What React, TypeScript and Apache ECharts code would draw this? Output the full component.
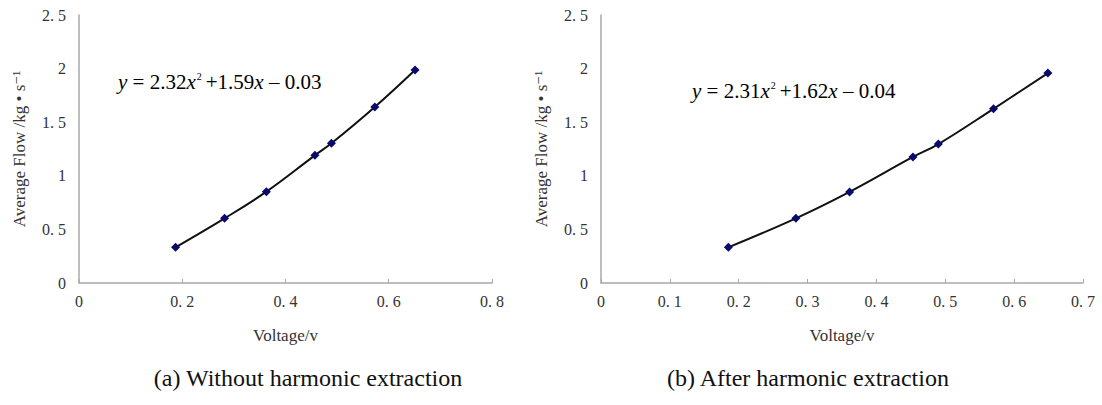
import React, { useEffect, useRef } from "react";
import * as echarts from "echarts";

const voltageA = [0.187, 0.282, 0.363, 0.457, 0.489, 0.573, 0.651];
const flowA = [0.333, 0.603, 0.852, 1.191, 1.303, 1.642, 1.987];
const voltageB = [0.185, 0.283, 0.361, 0.453, 0.49, 0.57, 0.649];
const flowB = [0.333, 0.603, 0.85, 1.176, 1.296, 1.625, 1.958];

const yAxisName = "Average Flow /kg • s⁻¹";
const xAxisName = "Voltage/v";
const captionA = "(a) Without harmonic extraction";
const captionB = "(b) After harmonic extraction";

const SERIF = "'Liberation Serif', 'DejaVu Serif', serif";

const fmt = (v: number) => {
  if (v === 0) return "0";
  const s = String(Math.round(v * 10) / 10);
  return s.replace(".", ". ");
};

function App() {
  const ref = useRef<HTMLDivElement>(null);
  useEffect(() => {
    if (!ref.current) return;
    const chart = echarts.init(ref.current, null, { renderer: "svg" });
    const axisLine = { lineStyle: { color: "#a8a8a8", width: 1.5 } };
    const labelStyle = { color: "#333", fontFamily: SERIF, fontSize: 16 };
    const nameStyle = { color: "#333", fontFamily: SERIF, fontSize: 17 };
    const xAxisCommon = (max: number, interval: number, gridIndex: number) => ({
      type: "value",
      gridIndex,
      min: 0,
      max,
      interval,
      name: xAxisName,
      nameLocation: "middle",
      nameGap: 44,
      nameTextStyle: nameStyle,
      axisLine,
      axisTick: { show: true, inside: true, length: 4, lineStyle: { color: "#a8a8a8" } },
      axisLabel: { ...labelStyle, margin: 10, formatter: fmt },
      splitLine: { show: false },
    });
    const yAxisCommon = (gridIndex: number) => ({
      type: "value",
      gridIndex,
      min: 0,
      max: 2.5,
      interval: 0.5,
      name: yAxisName,
      nameLocation: "middle",
      nameGap: 51,
      nameTextStyle: nameStyle,
      axisLine: { show: true, ...axisLine },
      axisTick: { show: false },
      axisLabel: { ...labelStyle, margin: 13, formatter: fmt },
      splitLine: { show: false },
    });
    const seriesCommon = {
      type: "line",
      smooth: 0.4,
      symbol: "diamond",
      symbolSize: 9,
      itemStyle: { color: "#0a0a6e" },
      lineStyle: { color: "#111", width: 2 },
    };
    const eqRich = {
      n: { fontFamily: SERIF, fontSize: 21, color: "#222" },
      i: { fontFamily: SERIF, fontSize: 21, fontStyle: "italic", color: "#222" },
      s: { fontFamily: SERIF, fontSize: 10, color: "#222", verticalAlign: "top", padding: [0, 4, 10, 1] },
    };
    chart.setOption({
      animation: false,
      grid: [
        { left: 79, top: 15, width: 413, height: 268 },
        { left: 601, top: 15, width: 482, height: 268 },
      ],
      xAxis: [xAxisCommon(0.8, 0.2, 0), xAxisCommon(0.7, 0.1, 1)],
      yAxis: [yAxisCommon(0), yAxisCommon(1)],
      series: [
        { ...seriesCommon, xAxisIndex: 0, yAxisIndex: 0, data: voltageA.map((v, i) => [v, flowA[i]]) },
        { ...seriesCommon, xAxisIndex: 1, yAxisIndex: 1, data: voltageB.map((v, i) => [v, flowB[i]]) },
      ],
      graphic: [
        {
          type: "text",
          x: 118,
          y: 71,
          style: {
            text: "{i|y}{n| = 2.32}{i|x}{s|2}{n|+1.59}{i|x}{n| – 0.03}",
            rich: eqRich,
          },
        },
        {
          type: "text",
          x: 692,
          y: 80,
          style: {
            text: "{i|y}{n| = 2.31}{i|x}{s|2}{n|+1.62}{i|x}{n| – 0.04}",
            rich: eqRich,
          },
        },
        {
          type: "text",
          x: 308,
          y: 378,
          style: {
            text: captionA,
            fontFamily: SERIF,
            fontSize: 24,
            fill: "#111",
            align: "center",
            verticalAlign: "middle",
          },
        },
        {
          type: "text",
          x: 808,
          y: 378,
          style: {
            text: captionB,
            fontFamily: SERIF,
            fontSize: 24,
            fill: "#111",
            align: "center",
            verticalAlign: "middle",
          },
        },
      ],
    });
    return () => chart.dispose();
  }, []);
  return (
    <div
      ref={ref}
      style={{ position: "fixed", left: 0, top: 0, width: 1102, height: 405, background: "#fff" }}
    />
  );
}

export default App;
